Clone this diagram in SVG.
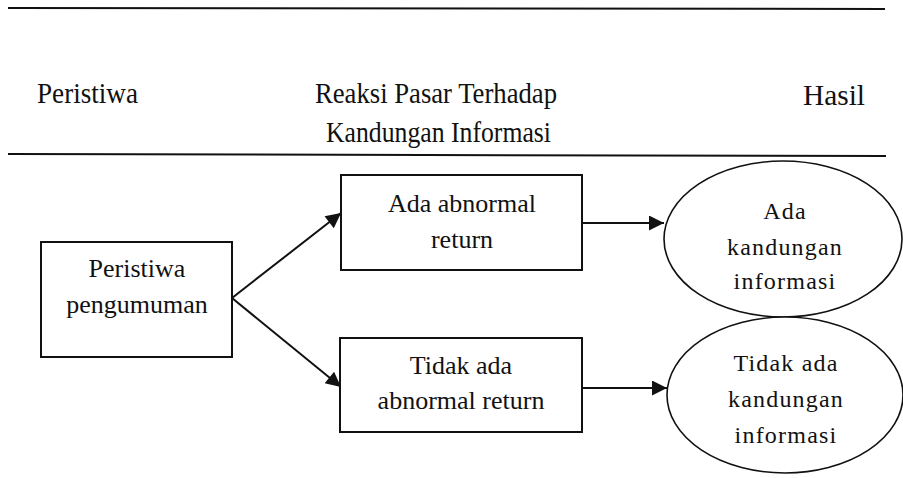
<svg xmlns="http://www.w3.org/2000/svg" width="903" height="478" viewBox="0 0 903 478">
<style>
  .rule { stroke:#111; stroke-width:2; }
  .box { fill:#fff; stroke:#111; stroke-width:2; }
  .ell { fill:#fff; stroke:#111; stroke-width:1.6; }
  .hd { font-family:"Liberation Serif","Times New Roman",serif; font-size:29px; fill:#111; }
  .tx { font-family:"Liberation Serif","Times New Roman",serif; font-size:26px; fill:#111; text-anchor:middle; }
  .et { font-family:"Liberation Serif","Times New Roman",serif; font-size:24px; letter-spacing:1.2px; fill:#111; text-anchor:middle; }
  .conn { stroke:#111; stroke-width:2; fill:none; marker-end:url(#ah); }
</style>
<defs>
  <marker id="ah" viewBox="0 0 10 10" refX="10" refY="5" markerWidth="18" markerHeight="15" markerUnits="userSpaceOnUse" orient="auto">
    <path d="M0,0 L10,5 L0,10 z" fill="#111"/>
  </marker>
</defs>
<rect width="903" height="478" fill="#fff"/>
<g id="header">
  <line class="rule" x1="8" y1="8" x2="885" y2="9"/>
  <line class="rule" x1="8" y1="154" x2="886" y2="156"/>
  <text class="hd" x="37" y="103" textLength="101" lengthAdjust="spacingAndGlyphs">Peristiwa</text>
  <text class="hd" x="315" y="103" textLength="242" lengthAdjust="spacingAndGlyphs">Reaksi Pasar Terhadap</text>
  <text class="hd" x="326" y="142" textLength="225" lengthAdjust="spacingAndGlyphs">Kandungan Informasi</text>
  <text class="hd" x="803" y="105" textLength="62" lengthAdjust="spacingAndGlyphs">Hasil</text>
</g>
<g id="connectors">
  <line class="conn" x1="232" y1="298" x2="341" y2="213"/>
  <line class="conn" x1="232" y1="298" x2="341" y2="387"/>
  <line class="conn" x1="582" y1="223" x2="664" y2="223"/>
  <line class="conn" x1="582" y1="388" x2="667" y2="388"/>
</g>
<g id="n-peristiwa">
  <rect class="box" x="41" y="242" width="191" height="115"/>
  <text class="tx" x="137" y="277">Peristiwa</text>
  <text class="tx" x="137" y="313">pengumuman</text>
</g>
<g id="n-ada-ar">
  <rect class="box" x="341" y="175" width="241" height="95"/>
  <text class="tx" x="462" y="212">Ada abnormal</text>
  <text class="tx" x="462" y="248">return</text>
</g>
<g id="n-tidak-ar">
  <rect class="box" x="340" y="338" width="242" height="94"/>
  <text class="tx" x="461" y="374">Tidak ada</text>
  <text class="tx" x="461" y="409">abnormal return</text>
</g>
<g id="n-ada-ki">
  <ellipse class="ell" cx="783" cy="239" rx="119" ry="78"/>
  <text class="et" x="785" y="219">Ada</text>
  <text class="et" x="785" y="255">kandungan</text>
  <text class="et" x="785" y="289">informasi</text>
</g>
<g id="n-tidak-ki">
  <ellipse class="ell" cx="785" cy="395" rx="118" ry="78"/>
  <text class="et" x="786" y="371">Tidak ada</text>
  <text class="et" x="786" y="407">kandungan</text>
  <text class="et" x="786" y="443">informasi</text>
</g>
</svg>
